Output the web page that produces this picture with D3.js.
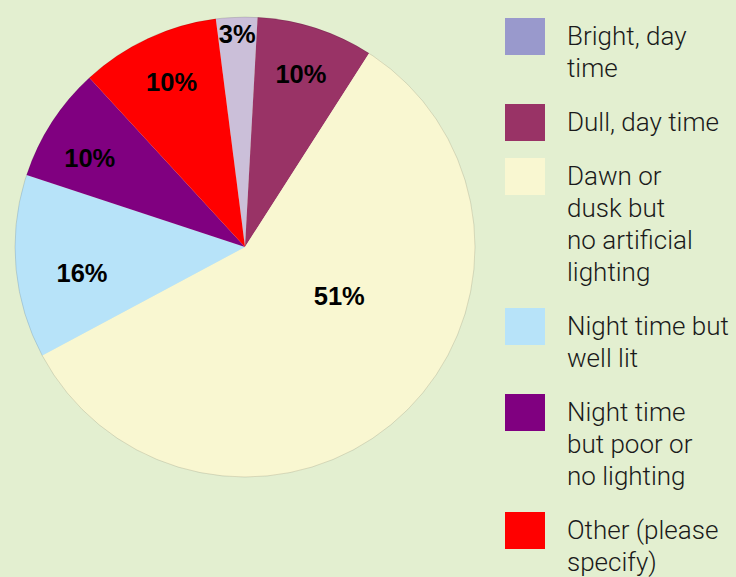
<!DOCTYPE html>
<html>
<head>
<meta charset="utf-8">
<script src="https://cdn.jsdelivr.net/npm/d3@7"></script>
<style>
  html, body { margin: 0; padding: 0; background: #e3efd0; }
  svg { display: block; }
  .slice-label { font-family: "Liberation Sans", Arial, sans-serif; font-weight: bold; font-size: 25.5px; fill: #000; }
  .legend-text { font-family: "Helvetica Neue", "Roboto", "Liberation Sans", sans-serif; font-weight: 300; font-size: 26px; fill: #1a1a1a; }
</style>
</head>
<body>
<div id="chart"></div>
<script>
/**
 * Data
 */
const categories = ["Bright, day time", "Dull, day time", "Dawn or dusk but no artificial lighting",
    "Night time but well lit", "Night time but poor or no lighting", "Other (please specify)"];
// slice sizes as drawn (the wedges), and the percentage text printed on them
const sliceValues = [2.9, 8.2, 58.1, 12.9, 8.1, 9.8];
const sliceLabels = ["3%", "10%", "51%", "16%", "10%", "10%"];
// legend text, wrapped the way the reference wraps it
const legendLines = [
    ["Bright, day", "time"],
    ["Dull, day time"],
    ["Dawn or", "dusk but", "no artificial", "lighting"],
    ["Night time but", "well lit"],
    ["Night time", "but poor or", "no lighting"],
    ["Other (please", "specify)"]
];

/**
 * Constants
 */
const width = 736, height = 577,
    cx = 245, cy = 247, radius = 230,
    startDeg = -7.3,
    sliceColors = ["#cbbfd9", "#993366", "#f9f7d1", "#b7e3f9", "#800080", "#ff0000"],
    swatchColors = ["#9999cc", "#993366", "#f9f7d1", "#b7e3f9", "#800080", "#ff0000"],
    // label placement: distance from centre and small angle nudge (degrees)
    labelPlace = [{ r: 213, da: 0 }, { r: 182, da: 0 }, { r: 106, da: -20 },
        { r: 165, da: -4 }, { r: 179, da: -3 }, { r: 181, da: 1 }],
    legend = { x: 505, textX: 567, firstBaseline: 45, lineH: 32, gap: 22, sw: 40, sh: 37, swOffset: 27 };

const toRad = d => d * Math.PI / 180;

const svg = d3.select("#chart")
    .append("svg")
    .attr("width", width)
    .attr("height", height);

svg.append("rect")
    .attr("width", width)
    .attr("height", height)
    .attr("fill", "#e3efd0");

// PIE
const pie = d3.pie()
    .sort(null)
    .value(d => d)
    .startAngle(toRad(startDeg))
    .endAngle(toRad(startDeg) + 2 * Math.PI);

const arcs = pie(sliceValues);
const arc = d3.arc().innerRadius(0).outerRadius(radius);

const g = svg.append("g")
    .attr("transform", `translate(${cx},${cy})`);

g.selectAll("path.slice")
    .data(arcs)
    .join("path")
    .attr("class", "slice")
    .attr("d", arc)
    .attr("fill", (d, i) => sliceColors[i]);

g.append("circle")
    .attr("r", radius)
    .attr("fill", "none")
    .attr("stroke", "rgba(0,0,0,0.12)")
    .attr("stroke-width", 1);

g.selectAll("text.slice-label")
    .data(arcs)
    .join("text")
    .attr("class", "slice-label")
    .attr("text-anchor", "middle")
    .attr("dominant-baseline", "central")
    .attr("transform", (d, i) => {
        const p = labelPlace[i];
        const a = (d.startAngle + d.endAngle) / 2 + toRad(p.da);
        return `translate(${Math.sin(a) * p.r},${-Math.cos(a) * p.r})`;
    })
    .text((d, i) => sliceLabels[i]);

// LEGEND
let baseline = legend.firstBaseline;
const items = legendLines.map((lines, i) => {
    const item = { lines, i, baseline };
    baseline += lines.length * legend.lineH + legend.gap;
    return item;
});

const lg = svg.selectAll("g.legend-item")
    .data(items)
    .join("g")
    .attr("class", "legend-item");

lg.append("rect")
    .attr("x", legend.x)
    .attr("y", d => d.baseline - legend.swOffset)
    .attr("width", legend.sw)
    .attr("height", legend.sh)
    .attr("fill", d => swatchColors[d.i]);

lg.append("text")
    .attr("class", "legend-text")
    .attr("x", legend.textX)
    .attr("y", d => d.baseline)
    .selectAll("tspan")
    .data(d => d.lines)
    .join("tspan")
    .attr("x", legend.textX)
    .attr("dy", (d, j) => j === 0 ? 0 : legend.lineH)
    .text(d => d);
</script>
</body>
</html>
